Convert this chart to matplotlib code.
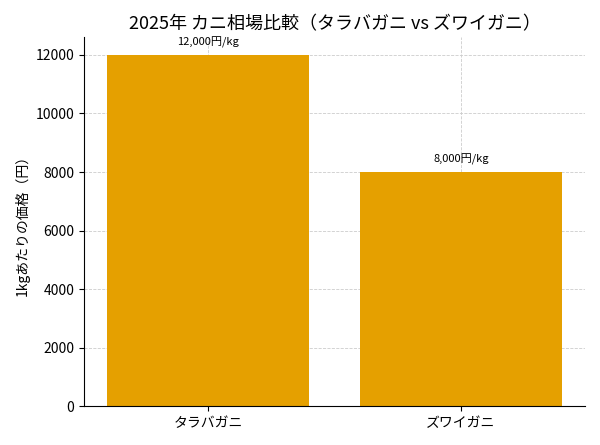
import matplotlib
matplotlib.use("Agg")
import matplotlib.pyplot as plt

plt.rcParams['font.family'] = ['Noto Sans CJK JP', 'DejaVu Sans']

categories = ["タラバガニ", "ズワイガニ"]
prices = [12000, 8000]
labels = ["12,000円/kg", "8,000円/kg"]

fig, ax = plt.subplots(figsize=(6.0, 4.45), dpi=100)
bars = ax.bar(categories, prices, color="#E5A000", zorder=2)
for b, lab in zip(bars, labels):
    ax.text(b.get_x() + b.get_width() / 2, b.get_height() + 250, lab,
            ha="center", va="bottom", fontsize=8)
ax.set_title("2025年 カニ相場比較（タラバガニ vs ズワイガニ）", fontsize=13)
ax.set_ylabel("1kgあたりの価格（円）", fontsize=10)
ax.set_ylim(0, 12600)
ax.grid(True, linestyle="--", color="#cccccc", linewidth=0.6, zorder=0)
ax.spines["top"].set_visible(False)
ax.spines["right"].set_visible(False)
fig.tight_layout()
fig.savefig("out.png")
